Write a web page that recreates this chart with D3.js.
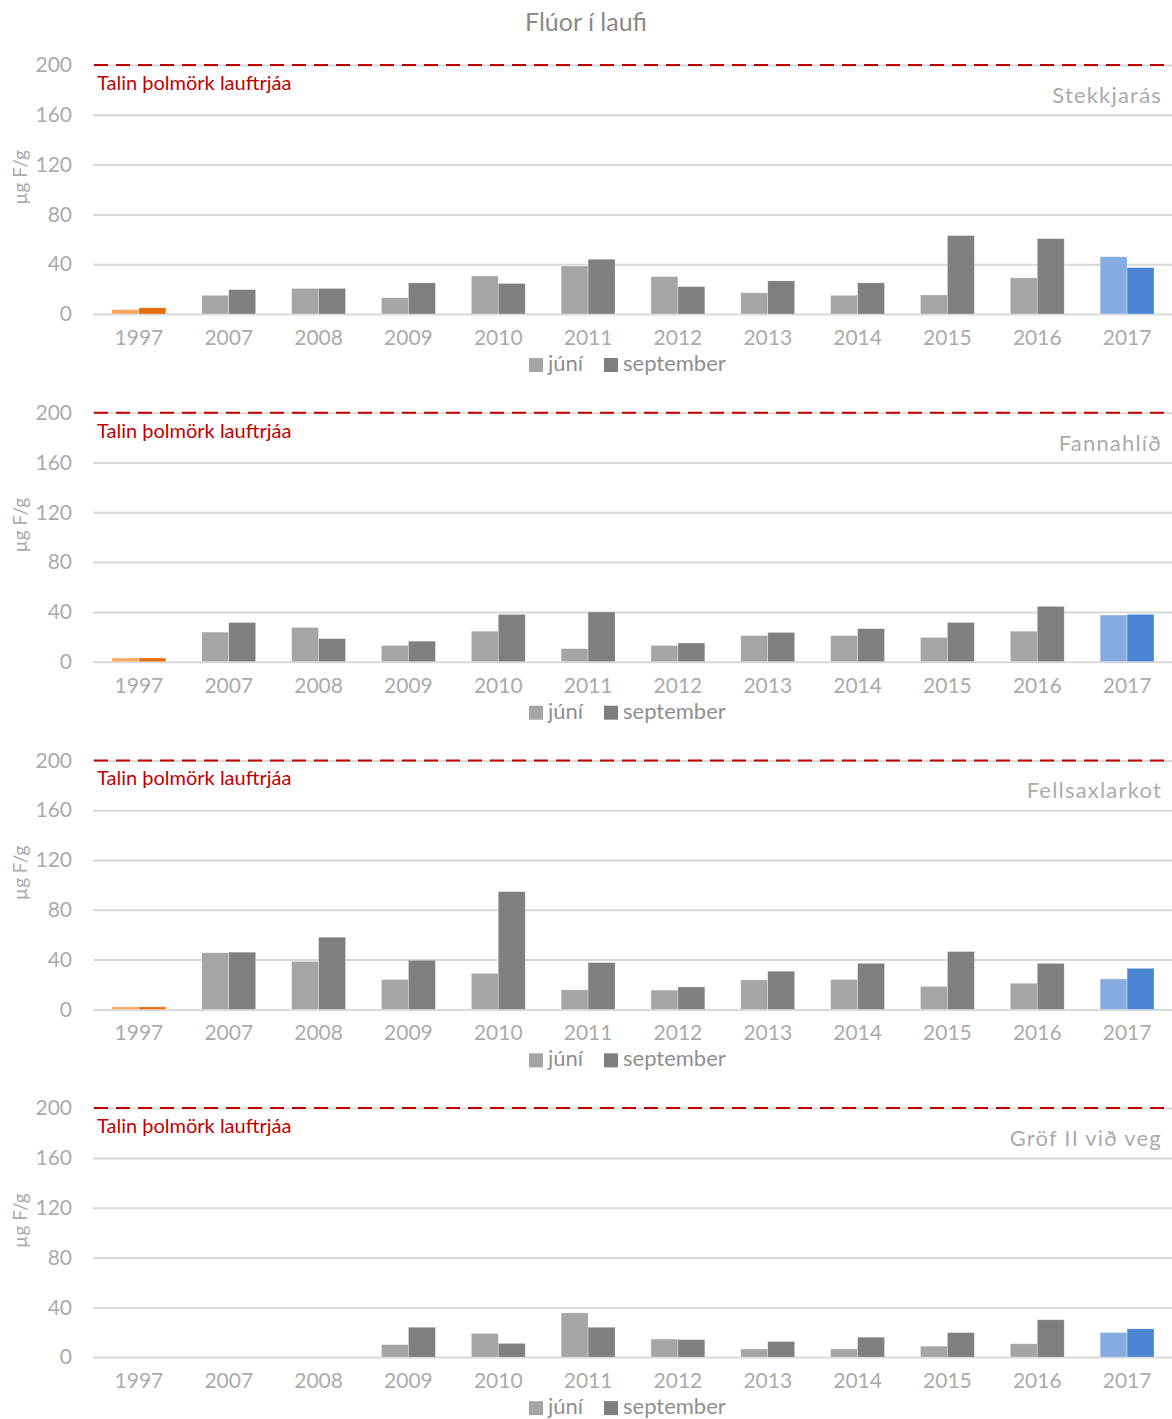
<!DOCTYPE html>
<html>
<head>
<meta charset="utf-8">
<script src="https://cdn.jsdelivr.net/npm/d3@7"></script>
<style>
  body { margin: 0; background: #fff; }
  svg { display: block; font-family: Lato, "Open Sans", sans-serif; }
</style>
</head>
<body>
<div id="chart"></div>
<script>
// data
const years = ["1997", "2007", "2008", "2009", "2010", "2011", "2012", "2013", "2014", "2015", "2016", "2017"];
const sites = ["Stekkjarás", "Fannahlíð", "Fellsaxlarkot", "Gröf II við veg"];
const seriesNames = ["júní", "september"];

const juniStekkjaras = [3.5, 15, 20.5, 13, 30.5, 38.5, 30, 17, 15, 15.3, 29, 46];
const septStekkjaras = [5, 19.6, 20.5, 25, 24.5, 44, 22, 26.6, 25, 63, 60.5, 37.3];
const juniFannahlid = [3, 23.8, 27.5, 13, 24.5, 10.5, 13, 21, 21, 19.5, 24.5, 37.5];
const septFannahlid = [3, 31.5, 18.5, 16.5, 38, 40, 15, 23.5, 26.5, 31.5, 44.5, 38];
const juniFellsaxlarkot = [2, 45.5, 38.5, 24, 29, 15.7, 15.5, 23.7, 24, 18.5, 21, 24.5];
const septFellsaxlarkot = [2, 46, 58, 39.5, 94.6, 37.6, 18, 30.7, 37, 46.5, 37, 33];
const juniGrof = [null, null, null, 10, 19, 35.5, 14.5, 6.5, 6.5, 8.8, 10.7, 19.7];
const septGrof = [null, null, null, 24, 11, 24, 14, 12.5, 16, 19.7, 30, 22.7];

const juniBySite = [juniStekkjaras, juniFannahlid, juniFellsaxlarkot, juniGrof];
const septBySite = [septStekkjaras, septFannahlid, septFellsaxlarkot, septGrof];

const yTicks = [0, 40, 80, 120, 160, 200];
const limitValue = 200;
const limitLabel = "Talin þolmörk lauftrjáa";
const yTitle = "µg F/g";
const title = "Flúor í laufi";

const width = 1172, height = 1419;
const plotLeft = 94, plotRight = 1172;
const firstTop = 65, panelStep = 347.7, plotH = 249;

const greys = ["#a5a5a5", "#7f7f7f"];
const oranges = ["#f9a560", "#e66c0c"];
const blues = ["#86ace2", "#4a84d3"];
function barColor(year, s) {
  if (year === "1997") return oranges[s];
  if (year === "2017") return blues[s];
  return greys[s];
}

const svg = d3.select("#chart").append("svg")
  .attr("width", width)
  .attr("height", height);

svg.append("text")
  .attr("x", 586).attr("y", 31)
  .attr("text-anchor", "middle")
  .attr("font-size", 25)
  .attr("fill", "#8a8a8a")
  .text(title);

const x = d3.scaleBand().domain(years)
  .range([plotLeft, plotRight])
  .paddingInner(0.4).paddingOuter(0.2);
const xs = d3.scaleBand().domain([0, 1]).range([0, x.bandwidth()]);

sites.forEach((site, i) => {
  const top = firstTop + i * panelStep;
  const g = svg.append("g").attr("transform", `translate(0,${top})`);
  const y = d3.scaleLinear().domain([0, 200]).range([plotH, 0]);

  // grid
  const grid = g.append("g")
    .attr("transform", `translate(${plotLeft - 1},0)`)
    .call(d3.axisLeft(y).tickValues(yTicks).tickSize(-(plotRight - plotLeft + 1)).tickFormat(""));
  grid.select(".domain").remove();
  grid.selectAll("line").attr("stroke", "#d9d9d9").attr("stroke-width", 2);

  // tick labels
  const ax = g.append("g")
    .attr("transform", `translate(72,0)`)
    .call(d3.axisLeft(y).tickValues(yTicks).tickSize(0).tickPadding(0));
  ax.select(".domain").remove();
  ax.selectAll("text")
    .attr("font-family", "Lato, sans-serif")
    .attr("font-size", 21)
    .attr("fill", "#ababab");

  g.append("text")
    .attr("transform", `translate(27,${plotH / 2 - 12}) rotate(-90)`)
    .attr("text-anchor", "middle")
    .attr("font-size", 19)
    .attr("fill", "#ababab")
    .text(yTitle);

  // bars
  const rows = years.map((yr, k) => ({ year: yr, vals: [juniBySite[i][k], septBySite[i][k]] }));
  const groups = g.selectAll(".grp").data(rows).enter().append("g")
    .attr("transform", d => `translate(${x(d.year)},0)`);
  groups.selectAll("rect")
    .data(d => d.vals.map((v, s) => ({ v, s, year: d.year })).filter(e => e.v != null))
    .enter().append("rect")
    .attr("x", d => xs(d.s))
    .attr("width", xs.bandwidth())
    .attr("y", d => y(d.v))
    .attr("height", d => y(0) - y(d.v))
    .attr("fill", d => barColor(d.year, d.s))
    .attr("stroke", "#ffffff").attr("stroke-opacity", 0.5).attr("stroke-width", 0.6);

  // limit line
  g.append("line")
    .attr("x1", plotLeft).attr("x2", plotRight)
    .attr("y1", y(limitValue)).attr("y2", y(limitValue))
    .attr("stroke", "#c00000").attr("stroke-width", 2)
    .attr("stroke-dasharray", "14,8");
  g.append("text")
    .attr("x", 97).attr("y", y(limitValue) + 25)
    .attr("font-size", 20)
    .attr("fill", "#c00000")
    .text(limitLabel);

  // site label
  g.append("text")
    .attr("x", 1162).attr("y", 38)
    .attr("text-anchor", "end")
    .attr("font-size", 22)
    .attr("letter-spacing", 1.2)
    .attr("fill", "#ababab")
    .text(site);

  // x labels
  g.selectAll(".yr").data(years).enter().append("text")
    .attr("x", d => x(d) + x.bandwidth() / 2)
    .attr("y", plotH + 31)
    .attr("text-anchor", "middle")
    .attr("font-size", 21)
    .attr("fill", "#ababab")
    .text(d => d);

  // legend
  const leg = g.append("g").attr("transform", `translate(0,${plotH + 50})`);
  const legX = [529, 604];
  seriesNames.forEach((name, s) => {
    leg.append("rect")
      .attr("x", legX[s]).attr("y", -6)
      .attr("width", 14).attr("height", 14)
      .attr("fill", greys[s]);
    leg.append("text")
      .attr("x", legX[s] + 19).attr("y", 7)
      .attr("font-size", 22)
      .attr("fill", "#8f8f8f")
      .text(name);
  });
});
</script>
</body>
</html>
